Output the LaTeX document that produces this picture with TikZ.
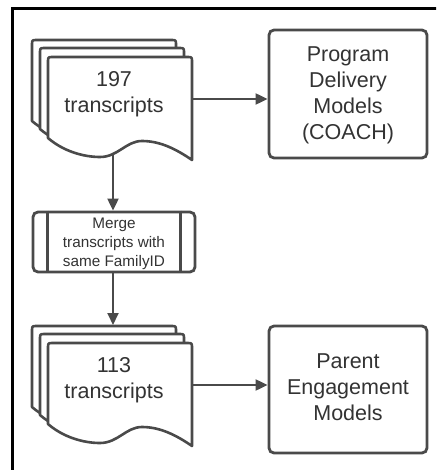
\documentclass[tikz,border=0pt]{standalone}
\usepackage{fontspec}
\setmainfont{Liberation Sans}
\usetikzlibrary{arrows.meta}
\definecolor{ln}{HTML}{4A4A4A}
\definecolor{tx}{HTML}{333333}
\tikzset{
  shapeline/.style={draw=ln, line width=2.6pt, fill=white, line join=round},
  boxstyle/.style={draw=ln, line width=2.8pt, rounded corners=5pt, fill=white, inner sep=0pt},
  bigtext/.style={text=tx, font=\fontsize{21.5}{26}\selectfont, align=center, inner sep=0pt},
  smalltext/.style={text=tx, font=\fontsize{15.3}{19}\selectfont, align=center},
  arr/.style={draw=ln, line width=2pt, -{Triangle[length=12pt,width=11pt]}},
}
\newcommand{\docstack}[2]{%
  \foreach \dx/\dy in {-16/-17,-8/-9,0/0}{%
    \path[shapeline, shift={(#1+\dx,#2+\dy)}]
      (0,81) -- (0,5) .. controls (0,0) .. (5,0) -- (139,0) .. controls (144,0) .. (144,5)
      -- (144,103) .. controls (128,92) and (112,84) .. (94,84)
      .. controls (78,84) and (70,100) .. (52,100)
      .. controls (35,100) and (15,94) .. (0,81) -- cycle;
  }%
}
\begin{document}
\begin{tikzpicture}[x=1pt,y=-1pt]
\useasboundingbox (0,0) rectangle (436,470);
\fill[white] (0,0) rectangle (436,470);
\begin{scope}
  \clip (0,0) rectangle (436,470);
  \draw[black, line width=3pt] (12,480) -- (12,9) -- (450,9);
\end{scope}

% documents
\docstack{48}{57}
\node[bigtext] (doc1) at (114,94) {197\\transcripts};
\coordinate (doc1r) at (192,99);
\coordinate (doc1b) at (113,155);

\docstack{48}{343}
\node[bigtext] (doc2) at (114,380) {113\\transcripts};
\coordinate (doc2r) at (192,385);
\coordinate (doc2top) at (113,325);

% boxes
\node[boxstyle, minimum width=158pt, minimum height=128pt] (prog) at (348,94) {};
\node[bigtext] (progt) at (348,95.5) {Program\\Delivery\\Models\\(COACH)};

\node[boxstyle, minimum width=158pt, minimum height=127pt] (parent) at (348,389.5) {};
\node[bigtext] (parentt) at (348,387.5) {Parent\\Engagement\\Models};

\node[boxstyle, minimum width=162pt, minimum height=60pt] (merge) at (114,242) {};
\draw[draw=ln, line width=2.6pt] ([xshift=16pt]merge.north west) -- ([xshift=16pt]merge.south west);
\draw[draw=ln, line width=2.6pt] ([xshift=-16pt]merge.north east) -- ([xshift=-16pt]merge.south east);
\node[smalltext] (merget) at (114,244) {Merge\\transcripts with\\same FamilyID};

% connectors
\draw[arr] (doc1r) -- (doc1r -| prog.west);
\draw[arr] (doc1b) -- (doc1b |- merge.north);
\draw[arr] (merge.south -| doc2top) -- (doc2top);
\draw[arr] (doc2r) -- (doc2r -| parent.west);
\end{tikzpicture}
\end{document}
